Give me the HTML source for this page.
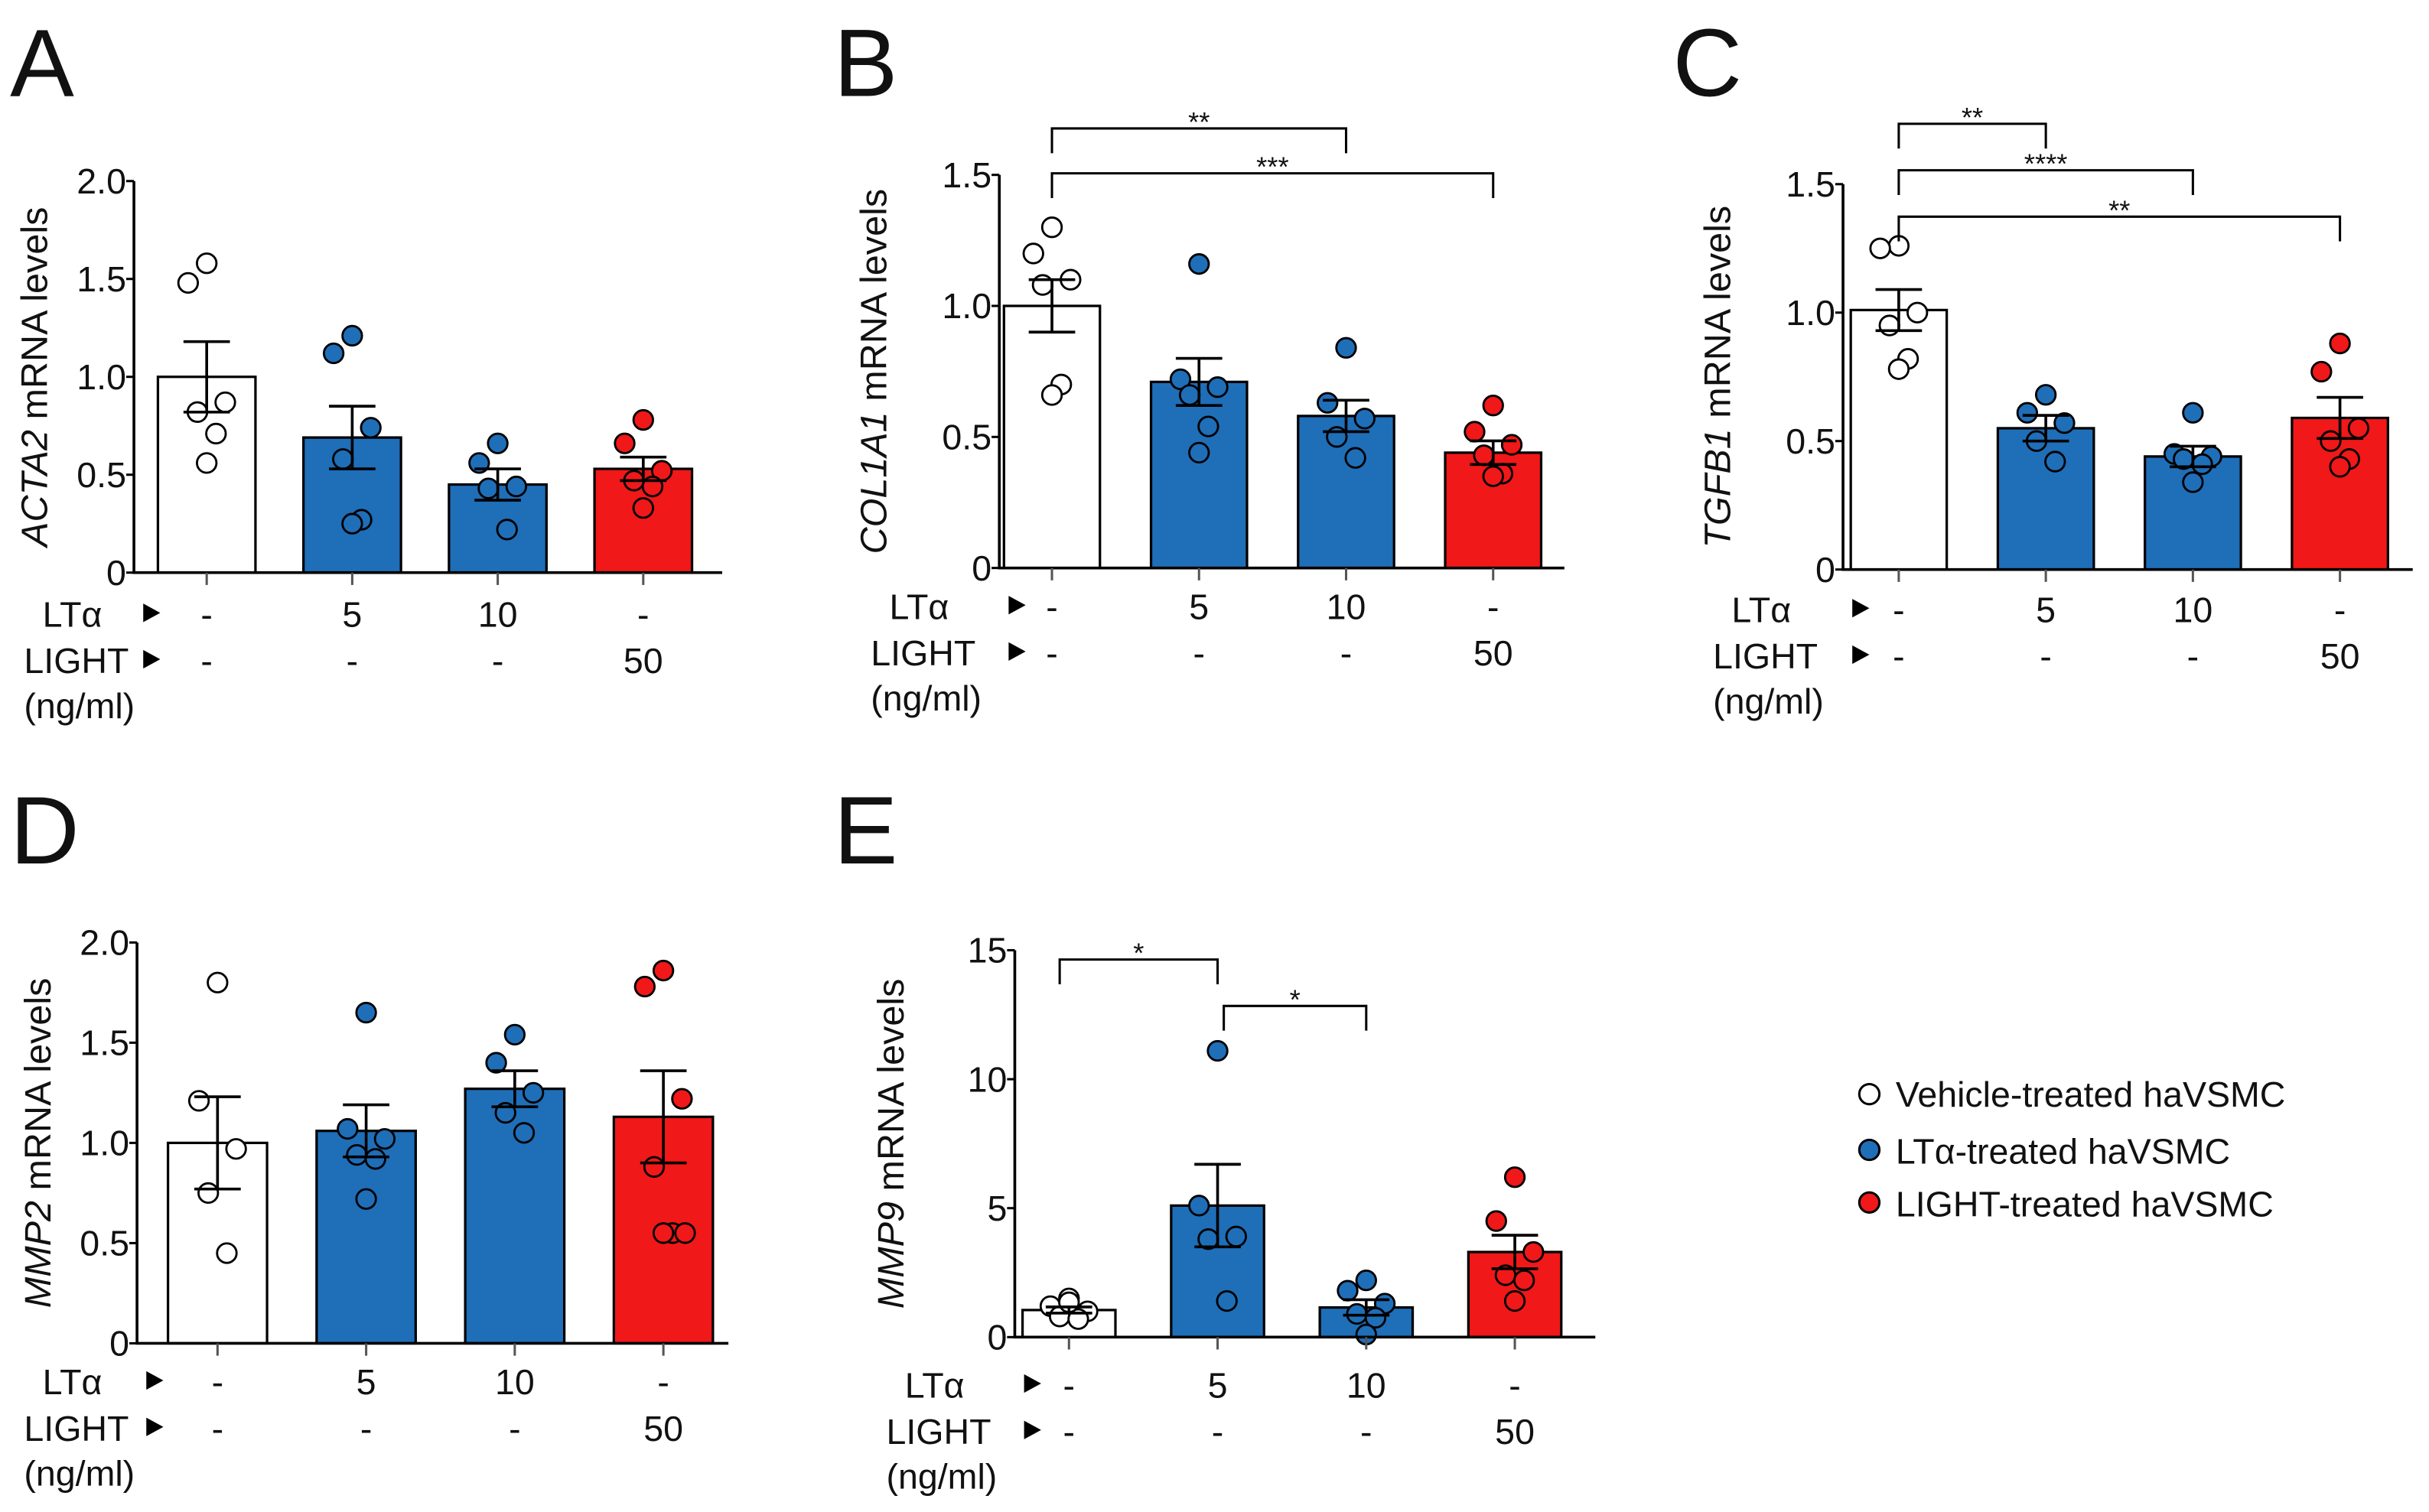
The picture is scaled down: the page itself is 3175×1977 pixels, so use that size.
<!DOCTYPE html>
<html><head><meta charset="utf-8"><style>
html,body{margin:0;padding:0;background:#fff;}
svg{display:block;}
text{font-family:"Liberation Sans",Arial,sans-serif;fill:#111;}
</style></head>
<body>
<svg id="fig" width="3175" height="1977" viewBox="0 0 1568 977" xmlns="http://www.w3.org/2000/svg">
<g>
<circle cx="1207" cy="707" r="6.5" fill="#fff" stroke="#000" stroke-width="1.5"/>
<text x="1224" y="715" font-size="23">Vehicle-treated haVSMC</text>
<circle cx="1207" cy="743" r="6.5" fill="#1f6eb8" stroke="#000" stroke-width="1.5"/>
<text x="1224" y="752" font-size="23">LTα-treated haVSMC</text>
<circle cx="1207" cy="777" r="6.5" fill="#f01818" stroke="#000" stroke-width="1.5"/>
<text x="1224" y="786" font-size="23">LIGHT-treated  haVSMC</text>
</g>
</svg>
<script>
// ---- data ----
const categories = ["Vehicle", "LTα 5", "LTα 10", "LIGHT 50"];
const ltaLabels = ["-", "5", "10", "-"];
const lightLabels = ["-", "-", "-", "50"];

const aMeans = [1.0, 0.69, 0.45, 0.53];
const aSems = [0.18, 0.16, 0.08, 0.06];
const aPoints = [[1.58,1.48,0.87,0.82,0.71,0.56],[1.21,1.12,0.74,0.58,0.27,0.25],[0.66,0.56,0.44,0.43,0.22],[0.78,0.66,0.52,0.47,0.44,0.33]];
const aTicks = ["0","0.5","1.0","1.5","2.0"];

const bMeans = [1.0, 0.71, 0.58, 0.44];
const bSems = [0.1, 0.09, 0.06, 0.045];
const bPoints = [[1.3,1.2,1.1,1.08,0.7,0.66],[1.16,0.72,0.69,0.66,0.54,0.44],[0.84,0.63,0.57,0.5,0.42],[0.62,0.52,0.47,0.43,0.36,0.35]];
const bTicks = ["0","0.5","1.0","1.5"];

const cMeans = [1.01, 0.55, 0.44, 0.59];
const cSems = [0.08, 0.05, 0.04, 0.08];
const cPoints = [[1.26,1.25,1.0,0.95,0.82,0.78],[0.68,0.61,0.57,0.5,0.42],[0.61,0.45,0.44,0.43,0.41,0.34],[0.88,0.77,0.55,0.5,0.43,0.4]];
const cTicks = ["0","0.5","1.0","1.5"];

const dMeans = [1.0, 1.06, 1.27, 1.13];
const dSems = [0.23, 0.13, 0.09, 0.23];
const dPoints = [[1.8,1.21,0.97,0.75,0.45],[1.65,1.07,1.02,0.94,0.92,0.72],[1.54,1.4,1.25,1.15,1.05],[1.86,1.78,1.22,0.88,0.55,0.55,0.55]];
const dTicks = ["0","0.5","1.0","1.5","2.0"];

const eMeans = [1.05, 5.1, 1.15, 3.3];
const eSems = [0.12, 1.6, 0.3, 0.65];
const ePoints = [[1.5,1.2,1.0,0.8,0.7,1.35],[11.1,5.1,3.9,3.8,1.4],[2.2,1.8,1.3,0.9,0.75,0.1],[6.2,4.5,3.3,2.4,2.2,1.4]];
const eTicks = ["0","5","10","15"];

// ---- layout ----
const NS = "http://www.w3.org/2000/svg";
const svg = document.getElementById("fig");
const fills = ["#ffffff", "#1f6eb8", "#1f6eb8", "#f01818"];
const jitter = [0, -12, 12, -6, 6, 0, 14];

function el(tag, attrs, parent) {
  const e = document.createElementNS(NS, tag);
  for (const k in attrs) e.setAttribute(k, attrs[k]);
  (parent || svg).appendChild(e);
  return e;
}

function panel(p) {
  const g = el("g", {});
  
  
  const y = v => p.y0 - (v / p.max) * (p.y0 - p.yTop);
  const xc = i => p.x0 + p.first + i * p.step;
  const t = el("text", {x: p.lx, y: p.ly, "font-size": 62}, g);
  t.textContent = p.letter;
  
  
  p.means.forEach((m, i) => {
    const r = el("rect", {x: xc(i) - p.bw / 2, y: y(m), width: p.bw, height: p.y0 - y(m), fill: fills[i], stroke: "#000", "stroke-width": 1.6}, g);
    
    
  });
  p.points.forEach((arr, i) => {
    arr.forEach((v, j) => {
      const c = el("circle", {cx: xc(i) + jitter[j % jitter.length], cy: y(v), r: 6.3, fill: fills[i], stroke: "#000", "stroke-width": 1.4}, g);
      
      
    });
  });
  p.means.forEach((m, i) => {
    const s = p.sems[i], x = xc(i);
    const eb = el("path", {d: `M${x},${y(m - s)}V${y(m + s)}M${x - 15},${y(m + s)}H${x + 15}M${x - 15},${y(m - s)}H${x + 15}`, stroke: "#000", "stroke-width": 1.8, fill: "none"}, g);
    
    
  });
  const ax = el("path", {d: `M${p.x0},${p.yTop}V${p.y0}H${p.xEnd}`, stroke: "#000", "stroke-width": 1.8, fill: "none"}, g);
  
  
  p.ticks.forEach((lab, k) => {
    const v = k * p.max / (p.ticks.length - 1);
    el("line", {x1: p.x0 - 5, x2: p.x0, y1: y(v), y2: y(v), stroke: "#000", "stroke-width": 1.5}, g);
    const tt = el("text", {x: p.x0 - 5, y: y(v) + 8, "font-size": 23, "text-anchor": "end"}, g);
    tt.textContent = lab;
    
    
  });
  categories.forEach((c, i) => {
    el("line", {x1: xc(i), x2: xc(i), y1: p.y0, y2: p.y0 + 8, stroke: "#555", "stroke-width": 1.5}, g);
    const a = el("text", {x: xc(i), y: p.rowY, "font-size": 23, "text-anchor": "middle"}, g);
    a.textContent = ltaLabels[i];
    
    
    const b = el("text", {x: xc(i), y: p.rowY + 30, "font-size": 23, "text-anchor": "middle"}, g);
    b.textContent = lightLabels[i];
    
    
  });
  const rl = [["LTα", p.rowY], ["LIGHT", p.rowY + 30], ["(ng/ml)", p.rowY + 59]];
  rl.forEach((r, k) => {
    const tx = el("text", {x: k === 0 ? p.rlx + 12 : p.rlx, y: r[1], "font-size": 23}, g);
    tx.textContent = r[0];
    
    
    if (k < 2) el("path", {d: `M${p.x0 + 6},${r[1] - 15}l11,6l-11,6z`, fill: "#000"}, g);
  });
  const yt = el("text", {x: 0, y: 0, "font-size": 24, "text-anchor": "middle", transform: `translate(${p.tx},${(p.y0 + p.yTop) / 2}) rotate(-90)`}, g);
  yt.innerHTML = `<tspan font-style="italic">${p.gene}</tspan> mRNA levels`;
  
  
  (p.sig || []).forEach(s => {
    const x1 = xc(s[0]) + (s[4] || 0), x2 = xc(s[1]);
    const br = el("path", {d: `M${x1},${s[2] + 16}V${s[2]}H${x2}V${s[2] + 16}`, stroke: "#000", "stroke-width": 1.5, fill: "none"}, g);
    
    
    const st = el("text", {x: (x1 + x2) / 2, y: s[2] + 2, "font-size": 18, "text-anchor": "middle"}, g);
    st.textContent = s[3];
    
    
  });
}

panel({letter: "A", lx: 6, ly: 62, x0: 86, xEnd: 466, y0: 370, yTop: 117, max: 2.0, first: 47, step: 94, bw: 63, means: aMeans, sems: aSems, points: aPoints, ticks: aTicks, rowY: 405, rlx: 15, tx: 30, gene: "ACTA2"});
panel({letter: "B", lx: 538, ly: 62, x0: 645, xEnd: 1010, y0: 367, yTop: 113, max: 1.5, first: 34, step: 95, bw: 62, means: bMeans, sems: bSems, points: bPoints, ticks: bTicks, rowY: 400, rlx: 562, tx: 572, gene: "COL1A1", sig: [[0, 2, 83, "**"], [0, 3, 112, "***"]]});
panel({letter: "C", lx: 1080, ly: 62, x0: 1190, xEnd: 1558, y0: 368, yTop: 119, max: 1.5, first: 36, step: 95, bw: 62, means: cMeans, sems: cSems, points: cPoints, ticks: cTicks, rowY: 402, rlx: 1106, tx: 1117, gene: "TGFB1", sig: [[0, 1, 80, "**"], [0, 2, 110, "****"], [0, 3, 140, "**"]]});
panel({letter: "D", lx: 6, ly: 558, x0: 88, xEnd: 470, y0: 868, yTop: 609, max: 2.0, first: 52, step: 96, bw: 64, means: dMeans, sems: dSems, points: dPoints, ticks: dTicks, rowY: 901, rlx: 15, tx: 32, gene: "MMP2"});
panel({letter: "E", lx: 538, ly: 558, x0: 655, xEnd: 1030, y0: 864, yTop: 614, max: 15, first: 35, step: 96, bw: 60, means: eMeans, sems: eSems, points: ePoints, ticks: eTicks, rowY: 903, rlx: 572, tx: 583, gene: "MMP9", sig: [[0, 1, 620, "*", -6], [1, 2, 650, "*", 4]]});
</script>
</body></html>
